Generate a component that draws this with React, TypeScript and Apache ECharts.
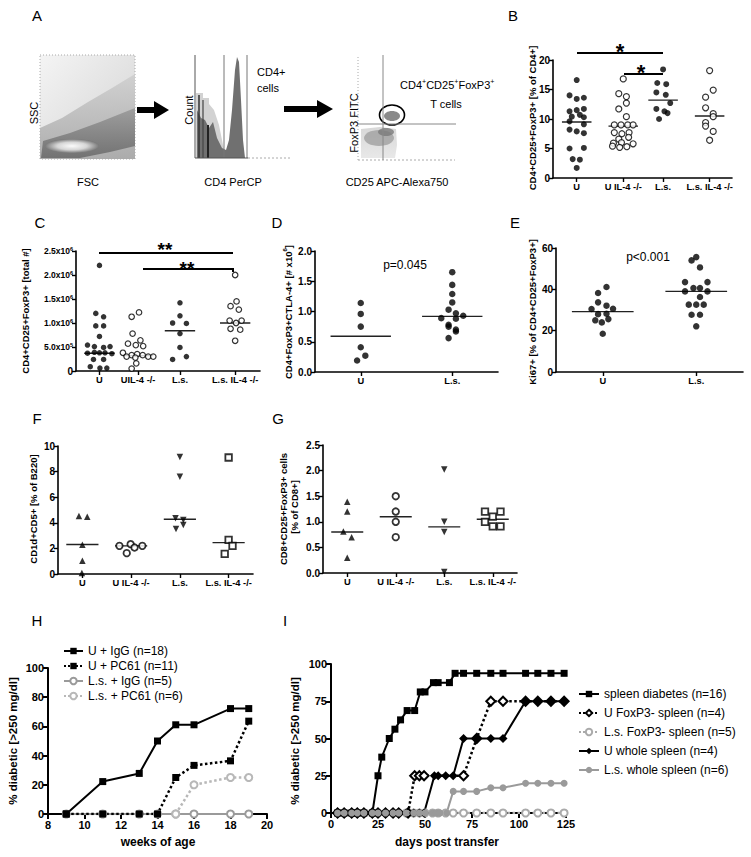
import React, { useEffect, useRef } from "react";
import * as echarts from "echarts";

const FF = "'Liberation Sans', Arial, Helvetica, sans-serif";

// ---------- category labels ----------
const CATS_4 = ["U", "U IL-4 -/-", "L.s.", "L.s. IL-4 -/-"];
const CATS_C = ["U", "UIL-4 -/-", "L.s.", "L.s. IL-4 -/-"];
const CATS_2 = ["U", "L.s."];

// ---------- Panel B: CD4+CD25+FoxP3+ [% of CD4+] ----------
const B_U = [16.6, 14.0, 13.6, 13.4, 11.7, 11.3, 11.5, 10.4, 10.7, 10.3, 9.6, 9.1, 8.2, 7.9, 7.6, 5.0, 5.1, 3.2, 3.1, 1.7];
const B_U_J = [0, -0.16, 0.16, 0, 0.16, -0.16, 0, -0.11, 0.07, 0.16, -0.16, 0.16, -0.16, 0, 0.16, -0.16, 0.16, -0.09, 0.07, 0];
const B_UIL = [16.8, 14.3, 13.8, 12.7, 11.7, 10.4, 9.0, 9.0, 9.0, 9.0, 7.7, 7.5, 7.7, 6.6, 6.9, 5.9, 6.0, 5.8, 5.4, 5.2, 5.3];
const B_UIL_J = [0, -0.1, 0.07, 0.07, -0.1, 0.07, -0.2, -0.05, 0.1, 0.22, -0.2, -0.03, 0.13, -0.1, 0.12, -0.22, -0.04, 0.22, -0.24, -0.08, 0.08];
const B_LS = [18.4, 16.1, 15.9, 14.5, 14.1, 12.7, 11.7, 11.3, 11.0, 10.0];
const B_LS_J = [0, -0.13, 0.07, -0.15, 0.06, 0.16, -0.15, 0.03, 0.1, -0.09];
const B_LSIL = [18.2, 14.9, 13.7, 11.9, 10.9, 10.4, 9.4, 8.8, 7.9, 6.4];
const B_LSIL_J = [0, 0.08, -0.09, -0.09, 0.08, 0.08, -0.09, -0.09, 0.08, 0];
const B_MED = [9.5, 8.8, 13.2, 10.5];
const B_TICKS = [0, 20, 5];

// ---------- Panel C: total # (x10^6) ----------
const C_U = [2.2, 1.2, 1.13, 0.94, 0.94, 0.72, 0.54, 0.51, 0.49, 0.51, 0.37, 0.39, 0.38, 0.38, 0.36, 0.24, 0.24, 0.09, 0.06, 0.06];
const C_U_J = [0, -0.08, 0.09, -0.08, 0.09, 0, -0.26, -0.11, 0.09, 0.23, -0.26, -0.11, 0, 0.12, 0.27, -0.13, 0.09, -0.2, 0.01, 0.16];
const C_UIL = [1.22, 1.13, 0.78, 0.64, 0.57, 0.54, 0.52, 0.38, 0.33, 0.35, 0.33, 0.3, 0.3, 0.3, 0.28, 0.16, 0.05];
const C_UIL_J = [0.02, -0.14, -0.12, 0.05, -0.22, -0.05, 0.11, -0.33, -0.14, -0.02, 0.1, 0.22, 0.33, -0.25, -0.06, -0.04, -0.14];
const C_LS = [1.42, 1.15, 1.0, 0.99, 0.78, 0.49, 0.3, 0.24];
const C_LS_J = [0, 0, -0.16, 0.14, 0, 0, 0.14, -0.16];
const C_LSIL = [2.0, 1.45, 1.35, 1.28, 1.05, 1.0, 1.05, 0.88, 0.86, 0.63];
const C_LSIL_J = [0, 0.03, -0.1, 0.08, -0.12, 0.02, 0.14, -0.1, 0.11, 0];
const C_MED = [0.37, 0.32, 0.84, 1.0];
const C_TICKS = [0, 2.5, 0.5];

// ---------- Panel D: CD4+FoxP3+CTLA-4+ [# x10^6] ----------
const D_U = [1.14, 0.96, 0.75, 0.41, 0.27, 0.19];
const D_U_J = [0, 0, 0, 0, 0.05, -0.04];
const D_LS = [1.65, 1.44, 1.29, 1.15, 1.03, 0.97, 0.89, 0.93, 0.88, 0.78, 0.75, 0.7, 0.67, 0.56];
const D_LS_J = [0, 0, 0, 0, -0.04, 0.04, -0.12, 0.12, 0.04, -0.04, -0.04, 0.04, 0.04, -0.04];
const D_MED = [0.59, 0.92];
const D_TICKS = [0, 2, 0.5];

// ---------- Panel E: Ki67+ ----------
const E_U = [41.1, 38.2, 33.7, 32.1, 30.5, 30.6, 28.0, 28.2, 25.0, 25.6, 24.0, 18.5];
const E_U_J = [0.04, -0.05, -0.05, 0.04, -0.12, 0.11, -0.05, 0.04, -0.08, 0.06, -0.01, 0];
const E_LS = [55.6, 54.0, 50.6, 43.5, 43.5, 40.6, 40.6, 39.0, 39.0, 36.3, 32.6, 32.6, 32.6, 27.7, 27.7, 22.1];
const E_LS_J = [0, -0.05, 0.04, -0.12, 0.12, -0.03, 0.04, -0.12, 0.12, 0.04, -0.08, 0, 0.08, -0.05, 0.04, 0];
const E_MED = [29.2, 39];
const E_TICKS = [0, 60, 20];

// ---------- Panel F: CD1d+CD5+ ----------
const F_U = [4.53, 4.48, 2.28, 1.04, 0.08];
const F_U_J = [-0.07, 0.1, 0, 0, -0.01];
const F_UIL = [2.2, 1.63, 2.33, 2.07, 2.2];
const F_UIL_J = [-0.24, -0.09, -0.01, 0.07, 0.23];
const F_LS = [9.15, 7.6, 4.35, 4.22, 3.52, 3.83];
const F_LS_J = [0, 0, -0.09, 0.07, -0.08, 0.07];
const F_LSIL = [9.1, 2.67, 2.2, 1.58];
const F_LSIL_J = [0, 0, 0.08, -0.08];
const F_MED = [2.3, 2.2, 4.28, 2.45];
const F_TICKS = [0, 10, 2];

// ---------- Panel G: CD8+CD25+FoxP3+ ----------
const G_U = [1.39, 1.2, 0.81, 0.7, 0.3];
const G_U_J = [0, 0, -0.08, 0.09, 0];
const G_UIL = [1.5, 1.2, 1.0, 0.7];
const G_UIL_J = [0, 0, 0, 0];
const G_LS = [2.02, 1.0, 0.8, 0.02];
const G_LS_J = [0, 0, 0, 0];
const G_LSIL = [1.2, 1.2, 1.1, 1.0, 0.91, 0.91];
const G_LSIL_J = [-0.16, 0.16, 0, -0.16, 0, 0.16];
const G_MED = [0.8, 1.1, 0.9, 1.05];
const G_TICKS = [0, 2.5, 0.5];

// ---------- Panel H: % diabetic vs weeks of age ----------
const H_NAMES = ["U + IgG (n=18)", "U + PC61 (n=11)", "L.s. + IgG (n=5)", "L.s. + PC61 (n=6)"];
const H_WEEKS = [9, 11, 13, 14, 15, 16, 18, 19];
const H_U_IGG = [0, 22.2, 27.8, 50, 61.1, 61.1, 72.2, 72.2];
const H_U_PC61 = [0, 0, 0, 0, 25, 33.3, 36.4, 63.6];
const H_LS_IGG = [0, 0, 0, 0, 0, 0, 0, 0];
const H_LS_PC61_WEEKS = [15, 16, 18, 19];
const H_LS_PC61 = [0, 20, 25, 25];

// ---------- Panel I: % diabetic vs days post transfer ----------
const I_NAMES = ["spleen diabetes (n=16)", "U FoxP3- spleen (n=4)", "L.s. FoxP3- spleen (n=5)", "U whole spleen (n=4)", "L.s. whole spleen (n=6)"];
const I_SPLEEN_DAYS = [3.5, 7, 11, 14, 17.5, 22, 25, 27, 31, 34, 37, 40.5, 44.5, 47.5, 50, 54.5, 57, 63, 66, 70.5, 77.5, 85, 91.5, 103.5, 110, 117, 124];
const I_SPLEEN = [0, 0, 0, 0, 0, 0, 25, 37.5, 50, 56.25, 62.5, 68.75, 68.75, 81.25, 81.25, 87.5, 87.5, 87.5, 93.75, 93.75, 93.75, 93.75, 93.75, 93.75, 93.75, 93.75, 93.75];
const I_UFOX_DAYS = [3.5, 7, 11, 14, 17.5, 22, 25, 29, 33, 36, 41, 44.5, 47, 49.5, 70.5, 77.5, 85, 91.5, 103.5, 110, 117, 124];
const I_UFOX = [0, 0, 0, 0, 0, 0, 0, 0, 0, 0, 0, 25, 25, 25, 25, 50, 75, 75, 75, 75, 75, 75];
const I_LSFOX_DAYS = [3.5, 7, 11, 14, 17.5, 22, 25, 29, 33, 36, 40, 44, 47, 50, 54, 57, 61, 65, 70.5, 77.5, 85, 91.5, 103.5, 110, 117, 124];
const I_LSFOX = [0, 0, 0, 0, 0, 0, 0, 0, 0, 0, 0, 0, 0, 0, 0, 0, 0, 0, 0, 0, 0, 0, 0, 0, 0, 0];
const I_UWHOLE_DAYS = [3.5, 7, 11, 14, 17.5, 22, 25, 29, 33, 36, 40, 44, 47, 49.5, 55, 57, 61, 65, 70.5, 77.5, 85, 91.5, 103.5, 110, 117, 124];
const I_UWHOLE = [0, 0, 0, 0, 0, 0, 0, 0, 0, 0, 0, 0, 0, 0, 25, 25, 25, 25, 50, 50, 50, 50, 75, 75, 75, 75];
const I_LSWHOLE_DAYS = [3.5, 7, 11, 14, 17.5, 22, 25, 29, 33, 36, 40, 44, 47, 50, 54, 56, 57, 58, 61.5, 65, 70.5, 77.5, 85, 91.5, 103.5, 110, 117, 124];
const I_LSWHOLE = [0, 0, 0, 0, 0, 0, 0, 0, 0, 0, 0, 0, 0, 0, 0, 0, 0, 0, 0, 14.5, 14.5, 14.5, 17, 17, 20, 20, 20, 20];

// ---------- layout ----------
const GRIDS = [
  { left: 553, top: 60, width: 179, height: 118 }, // B
  { left: 76, top: 251, width: 184, height: 120 }, // C
  { left: 315, top: 251, width: 183, height: 121 }, // D
  { left: 556, top: 248, width: 187, height: 124 }, // E
  { left: 58, top: 446, width: 195, height: 128 }, // F
  { left: 323, top: 445, width: 194, height: 128 }, // G
  { left: 48, top: 668, width: 219, height: 146 }, // H
  { left: 331, top: 664, width: 235, height: 149 }, // I
];

const zip = (xs: number[], ys: number[]) => xs.map((x, i) => [x, ys[i]]);

type Grp = { v: number[]; j: number[]; sym: string; empty: boolean; size: number; bw?: number; rot?: number };

const cFmt = (v: number) => {
  if (v === 0) return "0";
  if (v < 1) return `{a|${(v * 10).toFixed(1)}x10}{s|5}`;
  return `{a|${v.toFixed(1)}x10}{s|6}`;
};

const dotPanels: any[] = [
  {
    n: 4, labels: CATS_4, centers: [0.53, 1.57, 2.46, 3.5], ticks: B_TICKS, fmt: (v: number) => String(v), med: B_MED,
    groups: [
      { v: B_U, j: B_U_J, sym: "circle", empty: false, size: 6 },
      { v: B_UIL, j: B_UIL_J, sym: "circle", empty: true, size: 6, bw: 1.2 },
      { v: B_LS, j: B_LS_J, sym: "circle", empty: false, size: 6 },
      { v: B_LSIL, j: B_LSIL_J, sym: "circle", empty: true, size: 6, bw: 1.2 },
    ] as Grp[],
  },
  {
    n: 4, labels: CATS_C, centers: [0.51, 1.35, 2.26, 3.46], ticks: C_TICKS, fmt: cFmt, med: C_MED,
    groups: [
      { v: C_U, j: C_U_J, sym: "circle", empty: false, size: 5.5 },
      { v: C_UIL, j: C_UIL_J, sym: "circle", empty: true, size: 5.5, bw: 1.2 },
      { v: C_LS, j: C_LS_J, sym: "circle", empty: false, size: 5.5 },
      { v: C_LSIL, j: C_LSIL_J, sym: "circle", empty: true, size: 5.5, bw: 1.2 },
    ] as Grp[],
  },
  {
    n: 2, labels: CATS_2, centers: [0.5, 1.5], ticks: D_TICKS, fmt: (v: number) => v.toFixed(1), med: D_MED,
    groups: [
      { v: D_U, j: D_U_J, sym: "circle", empty: false, size: 6.5 },
      { v: D_LS, j: D_LS_J, sym: "circle", empty: false, size: 6.5 },
    ] as Grp[],
  },
  {
    n: 2, labels: CATS_2, centers: [0.5, 1.5], ticks: E_TICKS, fmt: (v: number) => String(v), med: E_MED,
    groups: [
      { v: E_U, j: E_U_J, sym: "circle", empty: false, size: 6.5 },
      { v: E_LS, j: E_LS_J, sym: "circle", empty: false, size: 6.5 },
    ] as Grp[],
  },
  {
    n: 4, labels: CATS_4, centers: [0.5, 1.5, 2.5, 3.5], ticks: F_TICKS, fmt: (v: number) => String(v), med: F_MED,
    groups: [
      { v: F_U, j: F_U_J, sym: "triangle", empty: false, size: 6.5 },
      { v: F_UIL, j: F_UIL_J, sym: "circle", empty: true, size: 6.5, bw: 1.8 },
      { v: F_LS, j: F_LS_J, sym: "triangle", empty: false, size: 6.5, rot: 180 },
      { v: F_LSIL, j: F_LSIL_J, sym: "rect", empty: true, size: 6.5, bw: 1.8 },
    ] as Grp[],
  },
  {
    n: 4, labels: CATS_4, centers: [0.5, 1.5, 2.5, 3.5], ticks: G_TICKS, fmt: (v: number) => v.toFixed(1), med: G_MED,
    groups: [
      { v: G_U, j: G_U_J, sym: "triangle", empty: false, size: 6.5 },
      { v: G_UIL, j: G_UIL_J, sym: "circle", empty: true, size: 6.5, bw: 1.8 },
      { v: G_LS, j: G_LS_J, sym: "triangle", empty: false, size: 6.5, rot: 180 },
      { v: G_LSIL, j: G_LSIL_J, sym: "rect", empty: true, size: 6.5, bw: 1.8 },
    ] as Grp[],
  },
];

const AX_LINE = { show: true, onZero: false, lineStyle: { color: "#000", width: 1.6 } };
const AX_TICK = { show: true, length: 4, lineStyle: { color: "#000", width: 1.4 } };
const LBL = { color: "#000", fontFamily: FF, fontWeight: "bold" as const };

function buildOption() {
  const xAxis: any[] = [];
  const yAxis: any[] = [];
  const series: any[] = [];

  dotPanels.forEach((p, i) => {
    const centers: number[] = p.centers;
    xAxis.push({
      gridIndex: i, type: "value", min: 0, max: p.n,
      axisLine: AX_LINE,
      axisTick: { ...AX_TICK, customValues: centers },
      axisLabel: {
        ...LBL, fontSize: 9.3, margin: 4, customValues: centers,
        formatter: (v: number) => {
          const k = centers.findIndex((c) => Math.abs(c - v) < 1e-6);
          return k >= 0 ? p.labels[k] : "";
        },
      },
      splitLine: { show: false },
    });
    yAxis.push({
      gridIndex: i, type: "value", min: p.ticks[0], max: p.ticks[1], interval: p.ticks[2],
      axisLine: AX_LINE, axisTick: AX_TICK,
      axisLabel: {
        ...LBL, fontSize: 10, margin: 3, formatter: p.fmt,
        rich: {
          a: { ...LBL, fontSize: 8.5, lineHeight: 11 },
          s: { ...LBL, fontSize: 5.5, lineHeight: 11, verticalAlign: "top", padding: [0, 0, 4, 0] },
        },
      },
      splitLine: { show: false },
    });
    (p.groups as Grp[]).forEach((g, gi) => {
      const c = centers[gi];
      series.push({
        type: "line", xAxisIndex: i, yAxisIndex: i, silent: true, z: 2,
        data: [[c - 0.33, p.med[gi]], [c + 0.33, p.med[gi]]],
        symbol: "none", lineStyle: { color: "#222", width: 1.4 },
      });
      series.push({
        type: "scatter", xAxisIndex: i, yAxisIndex: i, z: 3,
        data: g.v.map((v, k) => [c + g.j[k], v]),
        symbol: g.sym, symbolSize: g.size, symbolRotate: g.rot || 0,
        itemStyle: g.empty ? { color: "#fff", borderColor: "#000", borderWidth: g.bw || 1.2 } : { color: "#000" },
      });
    });
  });

  const bigAx = (gi: number, min: number, max: number, interval: number, isX: boolean) => ({
    gridIndex: gi, type: "value", min, max, interval,
    axisLine: { ...AX_LINE, lineStyle: { color: "#000", width: 2 } },
    axisTick: { ...AX_TICK, length: 5, lineStyle: { color: "#000", width: 2 } },
    axisLabel: { ...LBL, fontSize: 11, margin: isX ? 5 : 4 },
    splitLine: { show: false },
  });
  xAxis.push(bigAx(6, 8, 20, 2, true));
  yAxis.push(bigAx(6, 0, 100, 20, false));
  xAxis.push(bigAx(7, 0, 125, 25, true));
  yAxis.push(bigAx(7, 0, 100, 25, false));

  const ln = (name: string, xi: number, data: number[][], o: any) => ({
    name, type: "line", xAxisIndex: xi, yAxisIndex: xi, data, ...o,
  });

  // H series (grey first so black squares sit on top)
  series.push(ln(H_NAMES[2], 6, zip(H_WEEKS, H_LS_IGG), {
    symbol: "emptyCircle", symbolSize: 7, itemStyle: { color: "#9a9a9a", borderWidth: 1.5 }, lineStyle: { color: "#9a9a9a", width: 2 },
  }));
  series.push(ln(H_NAMES[3], 6, zip(H_LS_PC61_WEEKS, H_LS_PC61), {
    symbol: "emptyCircle", symbolSize: 7, itemStyle: { color: "#b8b8b8", borderWidth: 1.5 }, lineStyle: { color: "#b8b8b8", width: 2.5, type: "dotted" },
  }));
  series.push(ln(H_NAMES[1], 6, zip(H_WEEKS, H_U_PC61), {
    symbol: "rect", symbolSize: 7, itemStyle: { color: "#000" }, lineStyle: { color: "#000", width: 2.5, type: "dotted" },
  }));
  series.push(ln(H_NAMES[0], 6, zip(H_WEEKS, H_U_IGG), {
    symbol: "rect", symbolSize: 7, itemStyle: { color: "#000" }, lineStyle: { color: "#000", width: 2 },
  }));

  // I series
  series.push(ln(I_NAMES[2], 7, zip(I_LSFOX_DAYS, I_LSFOX), {
    symbol: "emptyCircle", symbolSize: 7, itemStyle: { color: "#aaa", borderWidth: 1.5 }, lineStyle: { color: "#aaa", width: 2.5, type: "dotted" },
  }));
  series.push(ln(I_NAMES[1], 7, zip(I_UFOX_DAYS, I_UFOX), {
    symbol: "emptyDiamond", symbolSize: 9, itemStyle: { color: "#000", borderWidth: 1.5 }, lineStyle: { color: "#000", width: 2.5, type: "dotted" },
  }));
  series.push(ln(I_NAMES[0], 7, zip(I_SPLEEN_DAYS, I_SPLEEN), {
    symbol: "rect", symbolSize: 7, itemStyle: { color: "#000" }, lineStyle: { color: "#000", width: 2 },
  }));
  series.push(ln(I_NAMES[3], 7, zip(I_UWHOLE_DAYS, I_UWHOLE), {
    symbol: "diamond", symbolSize: 9, itemStyle: { color: "#000" }, lineStyle: { color: "#000", width: 2 },
  }));
  series.push(ln(I_NAMES[4], 7, zip(I_LSWHOLE_DAYS, I_LSWHOLE), {
    symbol: "circle", symbolSize: 7, itemStyle: { color: "#9a9a9a" }, lineStyle: { color: "#9a9a9a", width: 2 },
  }));

  // ---------- graphic overlay ----------
  const R = Math.PI / 2;
  const T = (text: string, x: number, y: number, o: any = {}) => ({
    type: "text", x, y, rotation: o.rot || 0, silent: true, z: 100,
    style: {
      text, fill: o.fill || "#000", fontSize: o.size || 12, fontWeight: o.bold ? "bold" : "normal",
      fontFamily: FF, align: o.align || "center", verticalAlign: "middle", rich: o.rich,
    },
  });
  const L = (x1: number, y1: number, x2: number, y2: number, o: any = {}) => ({
    type: "line", silent: true, z: o.z || 100,
    shape: { x1, y1, x2, y2 },
    style: { stroke: o.stroke || "#000", lineWidth: o.w || 2, lineDash: o.dash, opacity: o.op ?? 1 },
  });
  const P = (points: number[][], fill: any, o: any = {}) => ({
    type: "polygon", silent: true, z: o.z || 50, shape: { points }, style: { fill, opacity: o.op ?? 1 },
  });
  const ELL = (cx: number, cy: number, rx: number, ry: number, style: any, z = 55) => ({
    type: "ellipse", silent: true, z, shape: { cx, cy, rx, ry }, style,
  });
  const sup = (fs: number) => ({
    a: { fontFamily: FF, fontSize: fs, fill: "#000", lineHeight: fs + 3 },
    s: { fontFamily: FF, fontSize: fs * 0.65, fill: "#000", lineHeight: fs + 3, verticalAlign: "top", padding: [0, 0, 5, 0] },
  });
  const supB = (fs: number) => ({
    a: { fontFamily: FF, fontSize: fs, fontWeight: "bold", fill: "#000", lineHeight: fs + 3 },
    s: { fontFamily: FF, fontSize: fs * 0.65, fontWeight: "bold", fill: "#000", lineHeight: fs + 3, verticalAlign: "top", padding: [0, 0, 4, 0] },
  });
  const lin = (x: number, y: number, x2: number, y2: number, stops: [number, string][]) => ({
    type: "linear", x, y, x2, y2, colorStops: stops.map(([offset, color]) => ({ offset, color })),
  });

  const g: any[] = [];
  // panel letters
  g.push(T("A", 37, 15, { size: 15 }), T("B", 513, 15, { size: 15 }), T("C", 40, 222, { size: 15 }),
    T("D", 277, 222, { size: 15 }), T("E", 515, 222, { size: 15 }), T("F", 37, 418, { size: 15 }),
    T("G", 278, 418, { size: 15 }), T("H", 37, 620, { size: 15 }), T("I", 285, 620, { size: 15 }));

  // ---- Panel A: flow cytometry sketches ----
  // plot 1 FSC/SSC
  g.push({ type: "rect", silent: true, z: 40, shape: { x: 40, y: 55, width: 95, height: 104 }, style: { fill: lin(0, 0, 1, 1, [[0, "#f4f4f4"], [0.6, "#e0e0e0"], [1, "#c8c8c8"]]), stroke: "#aaa", lineWidth: 1, lineDash: [1, 2] } });
  g.push(P([[40, 159], [40, 128], [62, 118], [88, 102], [112, 88], [135, 74], [135, 159]], lin(0, 0, 0, 1, [[0, "#cfcfcf"], [1, "#a8a8a8"]]), { op: 0.9 }));
  g.push(P([[41, 158], [43, 141], [70, 133], [100, 122], [125, 112], [135, 108], [135, 146], [110, 152], [80, 158]], lin(0, 0, 0, 1, [[0, "#9a9a9a"], [1, "#6c6c6c"]]), { op: 0.9 }));
  g.push(ELL(72, 146, 27, 7, {
    fill: { type: "radial", x: 0.5, y: 0.5, r: 0.5, colorStops: [{ offset: 0, color: "#fbfbfb" }, { offset: 0.55, color: "#d6d6d6" }, { offset: 1, color: "#7a7a7a" }] },
  }));
  g.push(T("SSC", 34, 113, { rot: R, size: 11 }), T("FSC", 88, 182, { size: 11 }));
  // arrow 1
  g.push(P([[137, 107], [154, 107], [154, 101], [169, 110], [154, 119], [154, 113], [137, 113]], "#000"));
  // plot 2 histogram
  g.push(P([[196, 158], [196, 93], [203, 93], [203, 98], [209, 98], [209, 104], [214, 110], [219, 125], [223, 145], [226, 158]], "#d2d2d2"));
  g.push(P([[197, 158], [197, 110], [201, 118], [205, 120], [209, 128], [213, 122], [217, 138], [222, 148], [226, 150], [229, 140], [232, 110], [235, 70], [237, 57], [239, 62], [241, 100], [243, 140], [245, 158]], "#707070", { z: 52 }));
  g.push(L(199, 95, 199, 158, { stroke: "#333", w: 1.5, z: 53 }), L(203, 100, 203, 158, { stroke: "#444", w: 1.2, z: 53 }), L(208, 125, 208, 158, { stroke: "#222", w: 2, z: 53 }));
  g.push(L(224, 55, 224, 158, { stroke: "#777", w: 1 }), L(247, 55, 247, 158, { stroke: "#777", w: 1 }));
  g.push(L(195, 55, 195, 158, { stroke: "#555", w: 1 }), L(195, 158, 248, 158, { stroke: "#555", w: 1 }), L(248, 158, 290, 158, { stroke: "#aaa", w: 1, dash: [2, 2] }));
  g.push(T("Count", 189, 110, { rot: R, size: 11 }), T("CD4+", 257, 72, { size: 11, align: "left" }), T("cells", 257, 88, { size: 11, align: "left" }));
  g.push(T("CD4 PerCP", 233, 182, { size: 11 }));
  // arrow 2
  g.push(P([[284, 106], [317, 106], [317, 100], [333, 109], [317, 118], [317, 112], [284, 112]], "#000"));
  // plot 3 CD25/FoxP3
  g.push(L(358, 57, 358, 160, { stroke: "#aaa", w: 1, dash: [1, 2] }), L(358, 160, 455, 160, { stroke: "#aaa", w: 1, dash: [2, 2] }));
  g.push(P([[361, 129], [380, 127], [396, 129], [397, 145], [395, 158], [361, 158]], lin(0, 0, 0, 1, [[0, "#d8d8d8"], [1, "#e8e8e8"]])));
  g.push(ELL(379, 138, 15, 8, { fill: "#a0a0a0", opacity: 0.8 }), ELL(386, 132, 8, 4, { fill: "#7a7a7a", opacity: 0.8 }));
  g.push(ELL(392, 116, 8, 5, { fill: "#8a8a8a" }));
  g.push(L(383, 55, 383, 160, { stroke: "#888", w: 1 }), L(358, 124, 456, 124, { stroke: "#888", w: 1 }));
  g.push(ELL(392, 115, 12.5, 10, { fill: "none", stroke: "#000", lineWidth: 1.6 }, 60));
  g.push(T("FoxP3 FITC", 354, 123, { rot: R, size: 11 }));
  g.push(T("{a|CD4}{s|+}{a|CD25}{s|+}{a|FoxP3}{s|+}", 400, 85, { align: "left", rich: sup(11) }));
  g.push(T("T cells", 446, 104, { size: 11 }));
  g.push(T("CD25 APC-Alexa750", 397, 182, { size: 11 }));

  // ---- axis titles ----
  g.push(T("CD4+CD25+FoxP3+ [% of CD4+]", 532, 118, { rot: R, size: 9.5, bold: true }));
  g.push(T("CD4+CD25+FoxP3+ [total #]", 25, 311, { rot: R, size: 9.5, bold: true }));
  g.push(T("{a|CD4+FoxP3+CTLA-4+ [# x10}{s|6}{a|]}", 288, 312, { rot: R, rich: supB(9.5) }));
  g.push(T("Ki67+ [% of CD4+CD25+FoxP3+]", 532, 312, { rot: R, size: 9.5, bold: true }));
  g.push(T("CD1d+CD5+ [% of B220]", 33, 509, { rot: R, size: 9.5, bold: true }));
  g.push(T("CD8+CD25+FoxP3+ cells", 283, 509, { rot: R, size: 9.5, bold: true }));
  g.push(T("[% of CD8+]", 294, 507, { rot: R, size: 9.5, bold: true }));
  g.push(T("% diabetic [>250 mg/dl]", 13, 741, { rot: R, size: 11.5, bold: true }));
  g.push(T("% diabetic [>250 mg/dl]", 295, 741, { rot: R, size: 11.5, bold: true }));
  g.push(T("weeks of age", 158, 842, { size: 12, bold: true }));
  g.push(T("days post transfer", 447, 842, { size: 12, bold: true }));

  // ---- significance / p-values ----
  g.push(L(577, 53, 663, 53), T("*", 620, 51, { size: 22, bold: true }));
  g.push(L(624, 74, 663, 74), T("*", 641, 72, { size: 22, bold: true }));
  g.push(L(99, 253, 233, 253), T("**", 165, 249, { size: 19, bold: true }));
  g.push(L(143, 269, 233, 269), L(233, 268, 233, 272), T("**", 187, 268, { size: 19, bold: true }));
  g.push(T("p=0.045", 405, 265, { size: 12 }), T("p<0.001", 648, 257, { size: 12 }));

  return {
    animation: false,
    backgroundColor: "#fff",
    textStyle: { fontFamily: FF },
    grid: GRIDS.map((gr) => ({ ...gr, containLabel: false })),
    xAxis, yAxis, series,
    legend: [
      {
        data: H_NAMES, orient: "vertical", left: 58, top: 640, itemWidth: 19, itemHeight: 8, itemGap: 3,
        textStyle: { fontSize: 12, fontFamily: FF, color: "#000" }, selectedMode: false,
      },
      {
        data: I_NAMES, orient: "vertical", left: 573, top: 683, itemWidth: 20, itemHeight: 8, itemGap: 7,
        textStyle: { fontSize: 12, fontFamily: FF, color: "#000" }, selectedMode: false,
      },
    ],
    graphic: { elements: g },
  };
}

export default function App() {
  const ref = useRef<HTMLDivElement>(null);
  useEffect(() => {
    if (!ref.current) return;
    const chart = echarts.init(ref.current, undefined, { renderer: "svg" });
    chart.setOption(buildOption() as any);
    return () => chart.dispose();
  }, []);
  return (
    <div
      ref={ref}
      style={{ position: "absolute", left: 0, top: 0, width: 751, height: 857, background: "#fff" }}
    />
  );
}
